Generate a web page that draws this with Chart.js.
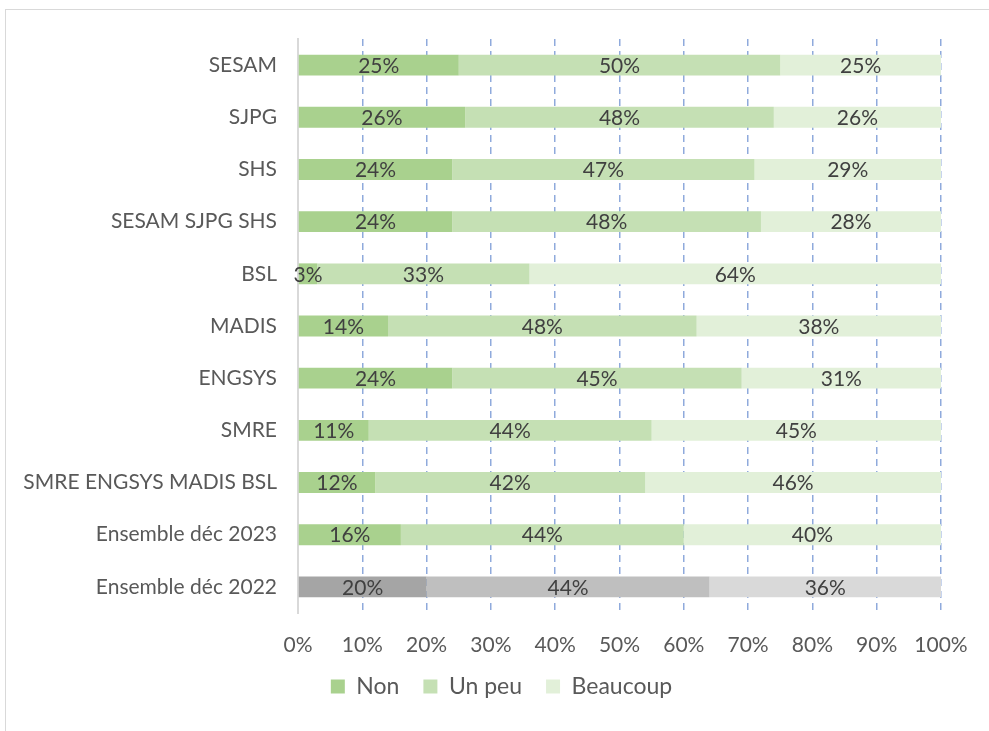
<!DOCTYPE html>
<html>
<head>
<meta charset="utf-8">
<script src="https://cdn.jsdelivr.net/npm/chart.js@4"></script>
<style>
  body { margin: 0; background: #fff; }
  #wrap { position: relative; width: 989px; height: 731px; overflow: hidden; }
  #frame { position: absolute; left: 5px; top: 9px; width: 1100px; height: 900px; border: 1px solid #d9d9d9; }
  canvas { position: absolute; left: 0; top: 0; }
</style>
</head>
<body>
<div id="wrap">
  <div id="frame"></div>
  <canvas id="stackChart" width="989" height="731"></canvas>
</div>
<script>
const categories = ['SESAM', 'SJPG', 'SHS', 'SESAM SJPG SHS', 'BSL', 'MADIS', 'ENGSYS', 'SMRE',
    'SMRE ENGSYS MADIS BSL', 'Ensemble déc 2023', 'Ensemble déc 2022'];
const non = [25, 26, 24, 24, 3, 14, 24, 11, 12, 16, 20];
const unPeu = [50, 48, 47, 48, 33, 48, 45, 44, 42, 44, 44];
const beaucoup = [25, 26, 29, 28, 64, 38, 31, 45, 46, 40, 36];
const xTicks = ['0%', '10%', '20%', '30%', '40%', '50%', '60%', '70%', '80%', '90%', '100%'];

const FONT = 'Lato';
const lastRow = categories.length - 1;

// last row (déc 2022) is drawn in grey
function colorFor(green, grey) {
    return ctx => ctx.dataIndex === lastRow ? grey : green;
}

const barLabels = {
    id: 'barLabels',
    afterDatasetsDraw(chart) {
        const ctx = chart.ctx;
        ctx.save();
        ctx.fillStyle = '#404040';
        ctx.font = '21px ' + FONT;
        ctx.textAlign = 'center';
        ctx.textBaseline = 'middle';
        chart.data.datasets.forEach((ds, i) => {
            chart.getDatasetMeta(i).data.forEach((bar, j) => {
                const p = bar.getCenterPoint();
                ctx.fillText(ds.data[j] + '%', p.x, p.y + 1);
            });
        });
        ctx.restore();
    }
};

// nudge the legend a bit right / up, like in the excel original
const legendShift = {
    id: 'legendShift',
    afterLayout(chart) {
        const lg = chart.legend;
        lg.left += 31; lg.right += 31;
        lg.top -= 3; lg.bottom -= 3;
    }
};

const ctx = document.getElementById('stackChart').getContext('2d');
new Chart(ctx, {
    type: 'bar',
    data: {
        labels: categories,
        datasets: [{
            label: 'Non',
            data: non,
            backgroundColor: colorFor('#a9d18e', '#a5a5a5'),
        }, {
            label: 'Un peu',
            data: unPeu,
            backgroundColor: colorFor('#c5e0b4', '#bfbfbf'),
        }, {
            label: 'Beaucoup',
            data: beaucoup,
            backgroundColor: colorFor('#e2f0d9', '#d9d9d9'),
        }]
    },
    options: {
        indexAxis: 'y',
        responsive: false,
        animation: false,
        barPercentage: 0.4,
        categoryPercentage: 1,
        layout: {
            padding: { top: 39, right: 48, bottom: 20, left: 0 }
        },
        scales: {
            x: {
                stacked: true,
                min: 0,
                max: 100,
                afterFit: s => { s.height = 41; },
                ticks: {
                    stepSize: 10,
                    padding: 20,
                    color: '#595959',
                    font: { family: FONT, size: 21 },
                    callback: (v, i) => xTicks[i]
                },
                grid: {
                    drawTicks: false,
                    color: c => c.index === 0 ? 'rgba(0,0,0,0)' : '#8faadc',
                    lineWidth: 1.5
                },
                border: { display: false, dash: [7, 5] }
            },
            y: {
                stacked: true,
                afterFit: s => { s.width = 298; },
                ticks: {
                    padding: 21,
                    color: '#595959',
                    font: { family: FONT, size: 21 }
                },
                grid: { display: false, drawTicks: false },
                border: { display: true, color: '#d9d9d9', width: 2 }
            }
        },
        plugins: {
            legend: {
                position: 'bottom',
                labels: {
                    boxWidth: 14,
                    boxHeight: 14,
                    padding: 24,
                    color: '#595959',
                    font: { family: FONT, size: 23 }
                }
            },
            tooltip: { enabled: false }
        }
    },
    plugins: [barLabels, legendShift]
});
</script>
</body>
</html>
